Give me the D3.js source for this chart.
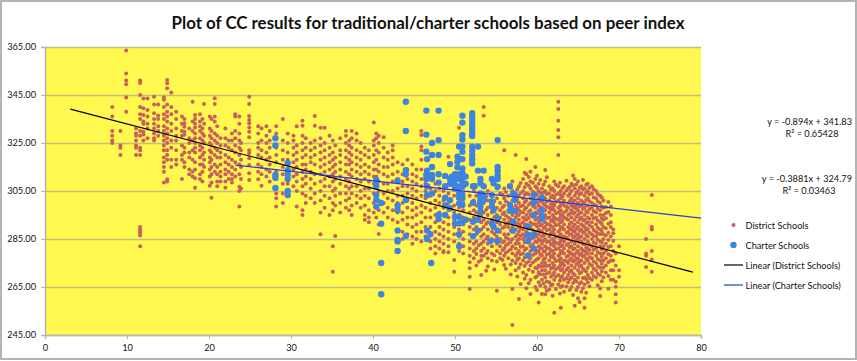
<!DOCTYPE html>
<html>
<head>
<meta charset="utf-8">
<script src="https://cdn.jsdelivr.net/npm/d3@7"></script>
<style>
html, body { margin: 0; padding: 0; background: #fff; }
svg { display: block; }
text { font-family: Lato, "Open Sans", sans-serif; fill: #111; }
</style>
</head>
<body>
<script>
"use strict";

const titleText = "Plot of CC results for traditional/charter schools based on peer index";
const xTicks = [0, 10, 20, 30, 40, 50, 60, 70, 80];
const yTicks = [245, 265, 285, 305, 325, 345, 365];
const seriesNames = ["District Schools", "Charter Schools", "Linear (District Schools)", "Linear (Charter Schools)"];

// each row is one peer index and the scores stacked above it
const districtLow = [
    [8.2, [340, 336, 330, 328, 326, 325]],
    [9.2, [330, 324, 323, 320]],
    [9.9, [363.5, 354, 351, 349.5, 344, 338]],
    [11.1, [331, 329, 328, 326, 324, 323, 320]],
    [11.6, [351, 350, 345, 340, 337, 335, 330, 328, 323, 322, 320, 290, 289, 288, 287.5, 286.5, 282]],
    [12, [343.5, 339.5, 336.7, 334, 333, 329.7, 328.5, 326]],
    [12.5, [343.5, 338.8, 336, 333, 331, 327]],
    [13.3, [344.3, 341, 337.4, 335, 333, 331, 329, 327, 326]],
    [13.8, [341, 336.5, 335, 332, 330, 328]],
    [14.5, [344, 343, 340, 337, 335, 332, 330, 328, 326, 324, 322, 319, 317, 315, 313, 308.5]],
    [14.9, [351.3, 349.9, 347.8, 341, 338, 336, 334, 331, 329, 327, 325, 322, 320, 318, 309.9, 309]],
    [15.4, [346, 340, 337, 333, 330, 326, 323, 318, 315]],
    [16, [338, 335, 331, 328, 326, 322, 318, 316]],
    [16.7, [336, 333, 330, 328, 324, 320, 318, 310]],
    [17, [335, 333.2, 331.8, 329.7, 328.4, 323, 321, 317, 315]],
    [17.6, [331, 327, 325, 321, 319, 314, 312]],
    [18, [342.2, 334, 330, 326, 322, 318, 313, 311]],
    [18.3, [336.7, 335, 333, 331.5, 329, 327, 325, 323, 321, 317, 314, 310.3, 306.4]],
    [18.9, [337, 334, 332, 330, 327, 324, 322, 319, 316, 312, 310]],
    [19.2, [335, 331, 329, 326, 323, 320, 316, 313, 309]],
    [19.4, [341.3, 333, 328, 325, 321, 318, 315]],
    [20.1, [336, 331, 328, 325, 322, 319, 317, 314, 311, 307.2]],
    [20.3, [335, 330, 327, 324, 321, 318, 315, 312, 308.5, 302.2]],
    [20.7, [343.6, 341.3, 336, 334, 329, 326, 323, 320, 316, 313]],
    [21, [332, 328, 325, 322, 319, 315, 312, 309, 307]],
    [21.4, [327, 324, 321, 319, 316, 313, 311, 309]],
    [22, [331, 327, 324, 320, 317, 314, 312, 309, 306.4]],
    [22.4, [326, 323, 319, 316, 313, 310]],
    [22.8, [329, 326, 322, 318, 315, 312, 310, 308.5]],
    [23.2, [337, 336, 330, 327, 324, 321, 317, 314, 311]],
    [23.7, [336, 333, 329, 326, 323, 320, 316, 312, 306.8, 305, 298.5]],
    [23.9, [325, 322, 318, 315, 310, 306]],
    [24.9, [344.3, 341.3, 336.3, 334.6, 333.2, 331.5, 329.7, 327.4, 322, 320.7, 318.6, 315.8, 312.4, 309.6]],
    [26, [332, 329, 325, 323, 320, 316, 313, 309.9]],
    [26.4, [331, 326, 322, 319, 315, 312, 307.2]],
    [27, [332, 328, 325, 321, 318, 314, 311]],
    [27.4, [330, 326, 323, 319, 316, 313, 309]],
    [28.2, [332, 329, 323, 320, 317, 313, 310, 304, 302, 298.5]],
    [29, [335, 326, 322, 318, 315, 312, 308, 304, 300]],
    [29.6, [329, 325, 321, 318, 314, 311, 308, 305]],
    [30.3, [328, 326, 323, 320, 317, 314, 311, 307]],
    [30.7, [332, 324, 321, 318, 315, 312, 309, 305, 298.5]],
    [31.4, [334.3, 332.2, 328, 325, 322, 319, 316, 313, 310, 307, 304, 297, 295]],
    [31.8, [327, 323, 320, 316, 314, 311, 308, 303, 300]],
    [32.4, [325, 322, 319, 317, 313, 310, 306, 302]],
    [32.9, [336.3, 332.2, 326, 323, 320, 316, 312, 308, 304, 300]],
    [33.6, [331.4, 327, 324, 321, 318, 315, 312, 309, 305, 301, 296, 287]],
    [34.1, [331.4, 325, 322, 319, 316, 313, 310, 307, 303, 298]],
    [34.7, [328, 323, 320, 317, 314, 311, 307, 302, 295]],
    [35.1, [326, 321, 318, 315, 312, 309, 305, 300, 297, 282, 271.4]],
    [35.4, [324, 319, 316, 313, 310, 306, 303, 299, 286.3]],
    [36, [327, 322, 320, 317, 314, 311, 308, 304, 300, 296]],
    [36.7, [330, 328, 325, 322, 319, 316, 313, 310, 307, 304, 301, 298]],
    [37.1, [326, 324, 321, 318, 316, 312, 309, 306, 302, 297]],
    [37.4, [330, 327, 323, 320, 317, 314, 311, 307, 304, 299, 295]],
    [38, [329, 326, 322, 319, 316, 313, 310, 307, 303, 300]],
    [38.5, [325, 321, 318, 315, 312, 309, 305, 302, 298]],
    [39, [323, 320, 316, 313, 310, 306, 303, 299, 295, 293]],
    [39.5, [322, 319, 315, 312, 309, 306, 302, 297, 294, 292]],
    [40.1, [333.5, 326, 324, 320, 317, 314, 311, 308, 304, 300, 296]],
    [40.4, [329, 327, 322, 318, 314, 311, 307, 303, 298, 294]],
    [40.7, [328, 325, 321, 316, 313, 309, 305, 301, 297, 291, 287.1]],
    [41.3, [327.4, 323, 319, 315, 312, 308, 304, 300, 296]],
    [41.8, [321, 318, 315, 311, 308, 305, 302, 298, 294]],
    [42.4, [324, 322, 319, 316, 312, 309, 305, 301, 297, 293]],
    [43, [317, 313, 310, 306, 303, 300, 296, 292, 289]],
    [43.6, [316, 312, 309, 307, 303, 300, 296, 293, 288, 285]],
    [44.2, [318, 314, 310, 307, 304, 301, 298, 294, 291, 287]],
    [44.8, [316, 312, 309, 306, 303, 300, 297, 294, 290, 286, 283]],
    [45.3, [314, 311, 308, 305, 302, 298, 295, 291, 288, 285]],
    [45.9, [330, 328.3, 323.5, 322, 318, 314, 310, 307, 303, 299, 296, 292, 288, 284]],
    [46.4, [312, 308, 305, 302, 298, 294, 290, 286]],
    [47, [310, 306, 303, 300, 297, 294, 290, 287, 284, 281]],
    [47.6, [308, 305, 301, 298, 295, 292, 288, 285, 282, 279]],
    [48.1, [306, 303, 300, 296, 293, 290, 287, 284, 281]],
    [48.6, [305, 301, 298, 295, 292, 289, 286, 283, 280, 279.5]],
    [49.2, [319.3, 304, 300, 297, 294, 291, 288, 285, 282, 279.5]],
    [49.9, [308, 303, 299, 296, 293, 290, 287, 284, 276.3, 271.4]]
];

const districtHigh = [
    [50.5, [331.4, 306, 302, 298, 295, 292, 289, 286, 283, 280]],
    [51, [304, 300, 297, 294, 291, 288, 285, 282, 279]],
    [51.8, [303, 299, 296, 293, 290, 287, 284, 281, 278, 275.3, 272.8, 269.3, 264.2]],
    [52.3, [305, 301, 297, 294, 292, 289, 286, 283, 280, 277]],
    [52.6, [303, 299, 296, 293, 290, 287, 284, 281, 278.8, 274]],
    [53.2, [302, 298, 295, 292, 289, 286, 283, 280, 278, 276.3, 270]],
    [53.5, [340, 336.4, 304, 300, 296, 293, 290, 287, 284, 281, 278]],
    [54, [305, 301, 298, 295, 292, 289, 286, 283, 280, 277, 273.5]],
    [54.5, [303, 299, 296, 293, 291, 288, 285, 282, 279, 276]],
    [55.1, [315, 306, 302, 298, 295, 292, 289, 286, 283, 280, 275.6, 263.4]],
    [55.5, [304, 300, 297, 294, 291, 288, 285, 282, 279, 277]],
    [56, [322, 306, 302, 299, 296, 293, 290, 287, 284, 281, 278, 274.2]],
    [56.5, [303, 300, 297, 294, 292, 290, 287, 285, 283, 280, 277]],
    [57, [309, 305, 301, 298, 295, 292, 290, 288, 285, 282, 279, 276, 264.2, 249.2]],
    [57.4, [320, 304, 302, 299, 296, 294, 291, 289, 286, 283, 281, 278, 275, 272]],
    [57.8, [307, 303, 300, 297, 295, 293, 290, 288, 285, 283, 280, 277, 273, 260]],
    [58.3, [310, 305, 302, 299, 296, 294, 292, 289, 287, 285, 282, 279, 276, 271]],
    [58.7, [318.3, 312, 308, 304, 301, 298, 295, 293, 291, 288, 286, 284, 281, 278, 275, 270, 264.5]],
    [59.2, [313, 309, 306, 302, 300, 297, 295, 292, 290, 287, 285, 282, 280, 277, 274, 268, 262.1]],
    [59.8, [315, 310, 307, 304, 301, 298, 296, 293, 291, 288, 286, 284, 281, 279, 276, 273, 269, 265]],
    [60.2, [308, 305, 302, 299, 297, 294, 292, 289, 287, 285, 282, 280, 277, 274, 271, 267, 258.5]],
    [60.6, [306, 303, 301, 298, 296, 293, 291, 288, 286, 283, 281, 278, 275, 272, 268, 262.1]],
    [61, [313.7, 309, 305, 302, 299, 297, 295, 292, 290, 287, 285, 282, 280, 277, 275, 272, 269, 265, 262]],
    [61.5, [307, 304, 301, 298, 296, 294, 291, 289, 286, 284, 281, 279, 276, 274, 271, 267, 264]],
    [61.9, [306, 303, 300, 298, 295, 293, 290, 288, 285, 283, 280, 278, 275, 273, 270, 266, 261.4]],
    [62.1, [309, 305, 302, 299, 297, 294, 292, 289, 287, 284, 282, 279, 277, 274, 271, 268, 254.3]],
    [62.6, [342.2, 339.2, 334.3, 330.4, 327.4, 320, 307, 304, 301, 298, 296, 293, 291, 288, 286, 283, 281, 278, 276, 273, 270, 266]],
    [62.9, [305, 302, 300, 297, 295, 292, 290, 287, 285, 282, 280, 277, 275, 272, 269, 265, 256.4]],
    [63.3, [307, 304, 301, 299, 296, 294, 291, 289, 286, 284, 281, 279, 276, 274, 271, 268, 263]],
    [63.8, [306, 303, 300, 298, 295, 293, 290, 288, 285, 283, 280, 278, 275, 273, 270, 267]],
    [64.2, [308, 305, 302, 299, 297, 294, 292, 289, 287, 284, 282, 279, 277, 274, 272, 269, 265]],
    [64.6, [310, 306, 303, 301, 298, 296, 293, 291, 288, 286, 283, 281, 278, 276, 273, 270, 268, 257.2]],
    [65, [309, 305, 302, 300, 297, 295, 292, 290, 287, 285, 282, 280, 277, 275, 272, 269, 265, 260.3]],
    [65.4, [307, 304, 301, 299, 296, 294, 291, 289, 286, 284, 281, 279, 276, 274, 271, 267, 263]],
    [65.8, [306, 303, 300, 298, 295, 293, 290, 288, 285, 283, 280, 278, 275, 272, 269, 266, 260.3, 256.4]],
    [66.2, [308, 305, 302, 299, 296, 294, 292, 289, 286, 284, 281, 279, 276, 273, 270, 267]],
    [66.7, [307, 304, 300, 298, 295, 292, 290, 287, 285, 282, 279, 277, 274, 271, 268]],
    [67.2, [305, 302, 299, 296, 294, 291, 288, 286, 283, 281, 278, 275, 272, 269]],
    [67.7, [303, 300, 297, 295, 292, 289, 287, 284, 282, 279, 276, 273, 270, 264.4, 261.2]],
    [68.1, [301, 298, 295, 293, 290, 287, 285, 282, 279, 276, 273, 269]],
    [68.4, [298.3, 295.8, 293.6, 289.5, 286.5, 283, 280, 277, 274, 271]],
    [69, [298.5, 295, 292, 290, 286, 282, 278, 276, 272, 268]],
    [69.3, [289, 287.4, 284.3, 280, 276, 272, 268]],
    [69.6, [279, 274, 267.2, 265.1, 262, 258.5]],
    [70, [282, 269.3, 272]],
    [73.3, [285, 279, 278, 273.3]],
    [74, [303.3, 290, 289, 280, 276.5, 271.4]]
];

// second pass over the solid part of the cloud, the points that sit between the rows above
const districtCore = [
    [52.9, [300.4, 294.6, 288.3, 282.4, 275.5]],
    [53.8, [302.7, 297.2, 291.4, 285.2, 279.1, 271.8]],
    [54.8, [300.6, 294.2, 287.1, 284.4, 278.2, 272.3]],
    [55.8, [303.4, 298.2, 295.4, 289.6, 283.6, 280.4, 276.2]],
    [56.2, [304.6, 300.7, 294.8, 291.3, 285.7, 282.3, 279.3, 272.6]],
    [56.8, [306.6, 299.3, 296.4, 293.2, 288.6, 283.8, 280.7, 274.4, 270.2]],
    [57.6, [305.7, 301.3, 297.8, 294.9, 291.6, 286.8, 284.3, 279.2, 276.4, 269.4]],
    [58, [308.3, 304.2, 298.6, 296.2, 291.3, 289.4, 286.4, 281.7, 278.6, 274.5, 266.2]],
    [58.5, [312.6, 306.6, 303.4, 300.3, 297.4, 293.4, 290.6, 286.2, 283.6, 280.4, 277.3, 273.7, 268.4]],
    [59, [310.8, 307.3, 303.6, 299.3, 296.4, 293.8, 289.3, 286.7, 283.3, 278.7, 275.6, 272.2, 266.6]],
    [59.5, [308.4, 304.8, 301.6, 298.7, 294.3, 291.2, 288.8, 285.5, 282.8, 278.3, 275.2, 271.4]],
    [60, [311.4, 306.2, 303.4, 300.3, 295.7, 293.4, 290.3, 286.6, 283.7, 279.8, 276.6, 272.7, 269.5, 263.7]],
    [60.4, [309.6, 304.3, 300.6, 298.3, 295.4, 290.6, 288.3, 284.4, 281.3, 278.6, 273.5, 270.3, 265.6]],
    [60.8, [307.6, 304.4, 299.8, 297.2, 294.2, 289.6, 286.6, 284.3, 279.7, 276.4, 273.6, 270.2, 266.6]],
    [61.2, [310.7, 303.8, 300.6, 298.4, 293.7, 291.2, 288.6, 283.7, 281.3, 278.4, 273.7, 270.6, 267.3, 263.4]],
    [61.7, [305.6, 302.4, 299.5, 297.2, 292.5, 290.4, 287.4, 282.7, 280.3, 277.5, 272.6, 269.3, 265.7]],
    [62.3, [307.6, 303.4, 300.4, 295.7, 293.4, 290.7, 285.8, 283.4, 280.7, 275.8, 272.4, 269.4, 264.2]],
    [62.8, [308.4, 303.5, 298.6, 296.4, 293.8, 288.7, 286.4, 283.6, 278.7, 276.3, 273.7, 267.6, 262.3]],
    [63.1, [306.2, 302.8, 299.7, 294.8, 292.6, 289.6, 284.7, 282.4, 279.6, 274.8, 272.5, 269.6, 265.4]],
    [63.6, [309.3, 305.2, 298.4, 296.8, 293.4, 287.6, 285.6, 282.5, 277.6, 275.7, 272.2, 268.6, 265.2]],
    [64, [306.7, 303.7, 300.8, 295.5, 291.3, 289.4, 286.8, 281.6, 279.4, 276.2, 271.4, 268.2, 263.8]],
    [64.4, [311.5, 307.4, 300.6, 298.5, 295.6, 290.2, 288.4, 285.6, 280.7, 278.5, 275.6, 270.6, 266.7, 261.7]],
    [64.8, [307.7, 304.3, 299.3, 297.7, 294.4, 289.3, 286.7, 284.4, 279.3, 276.7, 274.5, 267.3, 263.7]],
    [65.2, [306.4, 303.5, 298.6, 295.8, 293.3, 288.4, 285.8, 283.6, 278.4, 275.6, 273.5, 270.7, 266.5, 258.7]],
    [65.6, [309.6, 305.7, 300.3, 297.6, 292.7, 290.6, 287.6, 282.8, 280.3, 277.7, 272.6, 268.8, 264.5]],
    [66, [307.6, 304.4, 301.4, 296.6, 291.7, 289.4, 286.7, 281.6, 279.5, 276.7, 271.5, 268.3, 262.6]],
    [66.4, [306.4, 303.6, 300.7, 297.5, 293.4, 290.6, 287.7, 282.7, 280.4, 277.5, 274.6, 268.7, 265.3]],
    [66.9, [305.7, 302.3, 299.4, 296.7, 293.6, 288.7, 286.3, 283.6, 280.5, 275.6, 272.6, 269.6]],
    [67.4, [303.7, 300.7, 297.6, 292.7, 289.7, 287.3, 284.7, 279.6, 276.7, 273.6, 270.5, 265.7]],
    [67.9, [302.3, 298.5, 293.6, 291.3, 288.3, 283.6, 280.7, 277.6, 274.7, 271.6, 267.4]],
    [68.7, [300.4, 296.3, 291.4, 287.6, 284.6, 281.7, 278.6, 275.3, 269.6, 264.3]]
];

const charterPoints = [
    [28.1, 327], [28.1, 324], [28.1, 311.7], [28.1, 310.5], [28.1, 306.3],
    [29.6, 316.7], [29.6, 313.7], [29.6, 312], [29.6, 310], [29.6, 305], [29.6, 303.3],
    [40.4, 309.6], [40.4, 307.1], [40.4, 303.3], [40.4, 301.2], [40.4, 298.5],
    [41, 300], [41, 291.4], [41, 275], [41, 262],
    [43, 309.3], [43, 299], [43, 297], [43, 288.5], [43, 284.6], [43, 284], [43, 280],
    [44, 342.2], [44, 330], [44, 313.7], [44, 312], [44, 301.2], [44, 286.3],
    [46.5, 338.5], [46.5, 328.5], [46.5, 321.4], [46.6, 318.3], [46.6, 313.5], [46.5, 311.7], [46.5, 310],
    [46.6, 307], [46.6, 303.3], [46.6, 288.5], [46.6, 285], [47, 287], [47.1, 275],
    [47.2, 325], [47.2, 320], [47.2, 315], [47.2, 311.7], [47.2, 310], [47.2, 304],
    [48, 338.5], [48, 326.2], [48, 320], [48, 312], [48, 308.5], [48, 295], [48, 293.3],
    [48.8, 311.3], [48.8, 302.2], [48.8, 299], [48.8, 295], [48.8, 307],
    [49.4, 316.2], [49.4, 310], [49.4, 308], [49.4, 301.2], [49.4, 297.8], [49.6, 311],
    [50, 312], [50, 310], [50, 307.5], [50, 294.3], [50, 291.5], [50, 306],
    [50.3, 319.3], [50.3, 317.2], [50.3, 314.9], [50.5, 323.5], [50.5, 310], [50.5, 312],
    [50.5, 306.8], [50.5, 304], [50.5, 302.2], [50.5, 299.8], [50.5, 294.3], [50.5, 291.5], [50.5, 287], [50.5, 282],
    [50.9, 336.4], [50.9, 333.5], [50.9, 328.3], [50.9, 326.5], [50.9, 323.5], [50.9, 321.4], [50.9, 318.3],
    [50.9, 314.4], [50.9, 312.4], [50.9, 310.3], [50.9, 308.2], [50.9, 306.8], [50.9, 303.3], [50.9, 302], [50.9, 299.2], [50.9, 292],
    [51.3, 308], [51.3, 311], [51.3, 293],
    [52.1, 337.4], [52.1, 336], [52.1, 334.6], [52.1, 333.2], [52.1, 331.8], [52.1, 330.4], [52.1, 329], [52.1, 327.9],
    [52.1, 323.5], [52.1, 321.8], [52.1, 320], [52.1, 318.2], [52.1, 316.5],
    [52.2, 307], [52.2, 300.1], [52.2, 292.2], [52.2, 286.2], [52.4, 307],
    [52.8, 323.5], [52.8, 313.5], [52.8, 293], [52.8, 288.5],
    [53.1, 310], [53.1, 308.2], [53.1, 304], [53.1, 302.6], [53.1, 301.2], [53.1, 299.8], [53.1, 298.5], [53.1, 296.4],
    [53.5, 313.5], [53.5, 307], [53.5, 302.6], [53.5, 301.2],
    [54.3, 284.2], [54.5, 310], [54.5, 303.3], [54.5, 300.6], [54.5, 298.7], [54.5, 291.5],
    [54.7, 308.2], [54.7, 297], [54.7, 290.1],
    [55.2, 326.2], [55.2, 315], [55.2, 313.5], [55.2, 311.7], [55.2, 310], [55.2, 306.8], [55.2, 293.6], [55.2, 288.5], [55.2, 284.2],
    [56.7, 307], [56.7, 299.2], [56.7, 296.7],
    [57.1, 304], [57.1, 292.2], [57.1, 288.5], [57.3, 303.3], [57.3, 301.2], [57.3, 296.7],
    [58.9, 290.1], [58.9, 286.7], [58.9, 284.2], [58.9, 278],
    [59.6, 303.3], [59.6, 300.1], [59.6, 295], [59.6, 286.7], [59.6, 281],
    [60.6, 302.2], [60.6, 297], [60.6, 294.3], [60.6, 293.3]
];

// both ends of the fitted lines, from the equations printed on the chart
const districtTrend = [[3.1, 339.1], [79, 271.2]];
const charterTrend = [[23.2, 315.8], [80, 293.7]];
const equationLabels = [
    ["y = -0.894x + 341.83", "R² = 0.65428"],
    ["y = -0.3881x + 324.79", "R² = 0.03463"]
];

const width = 857;
const height = 361;
const plot = { left: 45, right: 701, top: 47, bottom: 335 };
const fontSize = 9.2;

const svg = d3.select("body").append("svg")
    .attr("width", width)
    .attr("height", height);

svg.append("rect")
    .attr("x", 1).attr("y", 1)
    .attr("width", width - 2).attr("height", height - 3)
    .attr("fill", "#fff")
    .attr("stroke", "#b4b4b4")
    .attr("stroke-width", 2);

const xScale = d3.scaleLinear().domain([0, 80]).range([plot.left, plot.right]);
const yScale = d3.scaleLinear().domain([245, 365]).range([plot.bottom, plot.top]);

svg.append("rect")
    .attr("x", plot.left).attr("y", plot.top)
    .attr("width", plot.right - plot.left).attr("height", plot.bottom - plot.top)
    .attr("fill", "#fff94f");

// gridlines
const grid = svg.append("g")
    .attr("transform", `translate(${plot.left},0)`)
    .call(d3.axisLeft(yScale).tickValues(yTicks).tickSize(-(plot.right - plot.left)).tickFormat(""));
grid.select(".domain").remove();
grid.selectAll("line").attr("stroke", "#c0bf7c").attr("stroke-width", 1.6);

const districtData = districtLow.concat(districtHigh, districtCore)
    .flatMap(row => row[1].map(score => [row[0], score]));

svg.append("g").selectAll("circle")
    .data(districtData)
    .join("circle")
    .attr("cx", d => xScale(d[0]))
    .attr("cy", d => yScale(d[1]))
    .attr("r", 2)
    .attr("fill", "#c95f5c");

svg.append("g").selectAll("circle")
    .data(charterPoints)
    .join("circle")
    .attr("cx", d => xScale(d[0]))
    .attr("cy", d => yScale(d[1]))
    .attr("r", 3.2)
    .attr("fill", "#3f83e0");

const line = d3.line().x(d => xScale(d[0])).y(d => yScale(d[1]));

svg.append("path").datum(districtTrend)
    .attr("d", line).attr("fill", "none").attr("stroke", "#000").attr("stroke-width", 1.2);
svg.append("path").datum(charterTrend)
    .attr("d", line).attr("fill", "none").attr("stroke", "#1f3fe0").attr("stroke-width", 1.2);

// axes
const yAxis = svg.append("g")
    .attr("transform", `translate(${plot.left},0)`)
    .call(d3.axisLeft(yScale).tickValues(yTicks).tickSize(4).tickPadding(5).tickFormat(d3.format(".2f")));
const xAxis = svg.append("g")
    .attr("transform", `translate(0,${plot.bottom})`)
    .call(d3.axisBottom(xScale).tickValues(xTicks).tickSize(4).tickPadding(5));

[yAxis, xAxis].forEach(axis => {
    axis.selectAll(".domain").attr("stroke", "#b4b4b4").attr("stroke-width", 1.5);
    axis.selectAll("line").attr("stroke", "#b4b4b4");
    axis.selectAll("text")
        .attr("font-size", fontSize)
        .attr("font-family", "Lato, 'Open Sans', sans-serif")
        .attr("fill", "#111");
});

svg.append("text")
    .attr("x", 428).attr("y", 29)
    .attr("text-anchor", "middle")
    .attr("font-size", 16.9)
    .attr("font-weight", "bold")
    .attr("fill", "#000")
    .text(titleText);

// equations of the trend lines
const equationY = [125, 182];
const equationCentre = [812, 809];
equationLabels.forEach((pair, i) => {
    svg.append("text").attr("x", 852).attr("y", equationY[i])
        .attr("text-anchor", "end").attr("font-size", fontSize).text(pair[0]);
    svg.append("text").attr("x", equationCentre[i]).attr("y", equationY[i] + 12)
        .attr("text-anchor", "middle").attr("font-size", fontSize).text(pair[1]);
});

// legend
const legendY = d3.scalePoint().domain(seriesNames).range([225, 285]);
const legend = svg.append("g");
legend.selectAll("text")
    .data(seriesNames)
    .join("text")
    .attr("x", 745.5)
    .attr("y", d => legendY(d) + 3.5)
    .attr("font-size", fontSize)
    .text(d => d);
legend.append("circle")
    .attr("cx", 733.5).attr("cy", legendY(seriesNames[0]))
    .attr("r", 2).attr("fill", "#c95f5c");
legend.append("circle")
    .attr("cx", 733.5).attr("cy", legendY(seriesNames[1]))
    .attr("r", 3.2).attr("fill", "#3f83e0");
legend.append("line")
    .attr("x1", 724).attr("x2", 743)
    .attr("y1", legendY(seriesNames[2])).attr("y2", legendY(seriesNames[2]))
    .attr("stroke", "#000").attr("stroke-width", 1.2);
legend.append("line")
    .attr("x1", 724).attr("x2", 743)
    .attr("y1", legendY(seriesNames[3])).attr("y2", legendY(seriesNames[3]))
    .attr("stroke", "#1f3fe0").attr("stroke-width", 1.2);
</script>
</body>
</html>
